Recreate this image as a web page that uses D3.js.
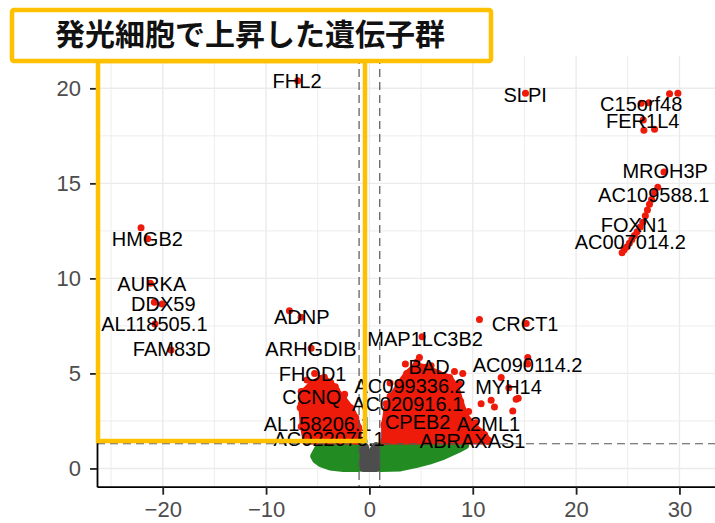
<!DOCTYPE html>
<html><head><meta charset="utf-8">
<script src="https://cdn.jsdelivr.net/npm/d3@7"></script>
<style>body{margin:0;background:#fff} svg{display:block}</style>
</head><body>
<svg id="chart" width="715" height="523"></svg>
<script>
// ---------------- data ----------------
const titleText = "発光細胞で上昇した遺伝子群";
const xTicks = [-20, -10, 0, 10, 20, 30];
const xMinorTicks = [-25, -15, -5, 5, 15, 25];
const yTicks = [0, 5, 10, 15, 20];
const yMinorTicks = [2.5, 7.5, 12.5, 17.5];
const fcCutoffs = [-1, 1];
const pCutoff = 1.3;

// labelled genes: log2FC, -log10(p), label position
const geneNames = ["FHL2","SLPI","C15orf48","FER1L4","MROH3P","AC109588.1","FOXN1","AC007014.2",
  "HMGB2","AURKA","DDX59","AL118505.1","FAM83D","ADNP","ARHGDIB","FHOD1","CCNQ","AL158206.1","AC022075.1",
  "MAP1LC3B2","BAD","AC099336.2","AC020916.1","CPEB2","A2ML1","ABRAXAS1","CRCT1","AC090114.2","MYH14"];
const geneFC = [-6.94,15.1,26.3,26.5,28.5,27.3,25.9,25.15,
  -21.46,-21.2,-20.07,-20.75,-19.2,-6.61,-5.64,-4.36,-3.9,-3.0,-1.6,
  5.1,4.84,2.0,2.5,3.5,9.5,6.5,15.17,15.32,13.49];
const geneP = [20.4,19.74,19.21,18.33,15.6,14.15,12.45,11.85,
  12.08,9.74,8.65,7.6,6.23,7.95,6.33,4.8,3.6,2.3,1.6,
  6.93,5.84,3.8,3.0,2.2,2.5,1.5,7.63,5.84,4.25];
const labelFC = [-7.0,15.07,26.3,26.45,28.62,27.51,25.62,25.24,
  -21.49,-21.06,-19.94,-20.81,-19.13,-6.54,-5.66,-5.5,-5.58,-5.01,-3.9,
  5.39,5.78,3.94,3.7,4.67,11.52,9.99,15.07,15.31,13.46];
const labelP = [20.37,19.66,19.16,18.26,15.63,14.39,12.82,11.89,
  12.08,9.68,8.66,7.61,6.29,7.95,6.29,4.97,3.74,2.34,1.55,
  6.82,5.32,4.34,3.39,2.42,2.34,1.45,7.61,5.45,4.26];

// other significant (red) points
const upPoints = [[29.04,19.72],[29.85,19.74],[27.04,19.24],[26.56,17.8],[27.59,17.84],
  [27.9,14.8],[27.6,14.5],[27.1,13.9],[26.9,13.6],[26.7,13.3],[26.45,12.95],[26.2,12.7],
  [25.65,12.25],[25.4,12.05],[24.9,11.65],[24.65,11.5],[24.45,11.35],
  [10.65,7.84],[15.32,5.5],[12.75,4.78],[14.2,3.64],[14.4,3.7],[13.87,3.02],[10.81,3.41],
  [11.78,3.59],[12.1,3.23],[8.23,5.1],[9.03,4.99],[8.55,3.81],[8.71,4.43],[3.48,5.49],
  [5.97,5.4],[4.6,5.6],[10.3,2.4],[10.9,1.9],[9.6,3.0],[2.0,4.5],[1.6,3.4]];
const downPoints = [[-22.1,12.67],[-20.81,8.74],[-7.74,8.3],[-6.05,4.65],[-6.6,4.05],
  [-4.07,4.2],[-5.3,5.0],[-6.7,3.2],[-6.6,2.2],[-2.4,3.9],[-1.6,2.9],[-3.3,4.3]];

// dense clouds (outlines of overlapping points)
const upCloud = [[1.47,1.45],[1.47,2.29],[1.71,3.08],[2.29,3.82],[2.97,4.45],[3.65,4.97],[4.52,5.39],
  [5.49,5.29],[6.65,4.97],[7.72,4.76],[8.39,4.24],[8.78,3.5],[9.26,2.76],[10.14,2.18],[11.1,1.76],[11.49,1.45]];
const downCloud = [[-6.13,1.45],[-6.4,2.29],[-6.55,3.34],[-6.3,4.03],[-5.55,4.45],[-4.58,4.71],[-3.8,4.5],
  [-3.22,4.08],[-2.55,3.66],[-1.87,3.18],[-1.38,2.66],[-1.09,2.13],[-1.09,1.45]];
const nsLeftCloud = [[-5.4,0.65],[-5.0,1.05],[-4.5,1.2],[-1.05,1.2],[-1.05,0],[-2.5,0],[-3.8,0.08],[-4.7,0.25],[-5.2,0.45]];
const nsRightCloud = [[1.05,0],[3.0,0.03],[4.5,0.2],[5.8,0.38],[7.0,0.6],[8.0,0.85],[8.8,1.05],[9.3,1.2],[1.05,1.2]];
const smallFcCloud = [[-0.6,0],[-0.6,1.0],[-0.4,1.15],[-0.15,0.7],[0.15,0.6],[0.4,1.05],[0.65,1.2],[0.7,0]];

// ---------------- drawing ----------------
const svg = d3.select("#chart");
const W = 715, H = 523;
const pL = 97, pR = 715, pT = 56, pB = 486.7;
const x = d3.scaleLinear().domain([-26.36, 33.44]).range([pL, pR]);
const y = d3.scaleLinear().domain([-0.96, 21.7]).range([pB, pT]);

svg.append("rect").attr("width", W).attr("height", H).attr("fill", "#fff");

const grid = svg.append("g");
grid.selectAll(".vmin").data(xMinorTicks).join("line")
  .attr("x1", d => x(d)).attr("x2", d => x(d)).attr("y1", pT).attr("y2", pB)
  .attr("stroke", "#ebebeb").attr("stroke-width", 0.9);
grid.selectAll(".hmin").data(yMinorTicks).join("line")
  .attr("y1", d => y(d)).attr("y2", d => y(d)).attr("x1", pL).attr("x2", pR)
  .attr("stroke", "#ebebeb").attr("stroke-width", 0.9);
grid.selectAll(".vmaj").data(xTicks).join("line")
  .attr("x1", d => x(d)).attr("x2", d => x(d)).attr("y1", pT).attr("y2", pB)
  .attr("stroke", "#ebebeb").attr("stroke-width", 1.4);
grid.selectAll(".hmaj").data(yTicks).join("line")
  .attr("y1", d => y(d)).attr("y2", d => y(d)).attr("x1", pL).attr("x2", pR)
  .attr("stroke", "#ebebeb").attr("stroke-width", 1.4);

const line = d3.line().x(d => x(d[0])).y(d => y(d[1])).curve(d3.curveLinearClosed);
const R = 3.5;
function cloud(data, color) {
  svg.append("path").attr("d", line(data)).attr("fill", color)
    .attr("stroke", color).attr("stroke-width", 2 * R).attr("stroke-linejoin", "round");
}
const green = "#228B22", red = "#EE1A0A", grey = "#4D4D4D";
cloud(nsLeftCloud, green);
cloud(nsRightCloud, green);
cloud(smallFcCloud, grey);
cloud(upCloud, red);
cloud(downCloud, red);

// points on cloud edges for texture
const edgePts = upCloud.concat(downCloud);
svg.selectAll(".edge").data(edgePts).join("circle")
  .attr("cx", d => x(d[0])).attr("cy", d => y(d[1])).attr("r", R + 0.6).attr("fill", red);

svg.selectAll(".up").data(upPoints.concat(downPoints)).join("circle")
  .attr("cx", d => x(d[0])).attr("cy", d => y(d[1])).attr("r", R).attr("fill", red);
svg.selectAll(".gene").data(geneNames).join("circle")
  .attr("cx", (d, i) => x(geneFC[i])).attr("cy", (d, i) => y(geneP[i])).attr("r", R).attr("fill", red);

// threshold lines
svg.selectAll(".vl").data(fcCutoffs).join("line")
  .attr("x1", d => x(d)).attr("x2", d => x(d)).attr("y1", pT).attr("y2", pB)
  .attr("stroke", "#555").attr("stroke-width", 1.2).attr("stroke-dasharray", "8,5");
svg.append("line").attr("x1", pL).attr("x2", pR).attr("y1", y(pCutoff)).attr("y2", y(pCutoff))
  .attr("stroke", "#555").attr("stroke-width", 1.2).attr("stroke-dasharray", "8,5");

// labels
svg.selectAll(".lab").data(geneNames).join("text")
  .attr("x", (d, i) => x(labelFC[i])).attr("y", (d, i) => y(labelP[i]))
  .attr("text-anchor", "middle").attr("dominant-baseline", "central")
  .attr("font-family", "'Liberation Sans', Arial, sans-serif").attr("font-size", 20)
  .attr("fill", "#000").text(d => d);

// axes
const xAxis = d3.axisBottom(x).tickValues(xTicks).tickSize(8).tickSizeOuter(0).tickPadding(7);
const yAxis = d3.axisLeft(y).tickValues(yTicks).tickSize(7).tickSizeOuter(0).tickPadding(9);
const gx = svg.append("g").attr("transform", `translate(0,${pB})`).call(xAxis);
const gy = svg.append("g").attr("transform", `translate(${pL},0)`).call(yAxis);
[gx, gy].forEach(g => {
  g.select(".domain").attr("stroke", "#000").attr("stroke-width", 1.8);
  g.selectAll(".tick line").attr("stroke", "#222").attr("stroke-width", 1.8);
  g.selectAll(".tick text").attr("font-family", "'Liberation Sans', Arial, sans-serif")
    .attr("font-size", 22).attr("fill", "#4D4D4D");
});

// highlight boxes
const gold = "#FFC000";
svg.append("rect").attr("x", 98).attr("y", 61).attr("width", 267).attr("height", 380)
  .attr("fill", "none").attr("stroke", gold).attr("stroke-width", 4.5);
svg.append("rect").attr("x", 12).attr("y", 10).attr("width", 479).attr("height", 51).attr("rx", 2)
  .attr("fill", "#fff").attr("stroke", gold).attr("stroke-width", 4.5);
svg.append("text").attr("x", 250).attr("y", 32).attr("text-anchor", "middle")
  .attr("dominant-baseline", "central")
  .attr("font-family", "'Noto Sans CJK JP', sans-serif").attr("font-weight", "bold")
  .attr("font-size", 30).attr("fill", "#111").text(titleText);
</script>
</body></html>
